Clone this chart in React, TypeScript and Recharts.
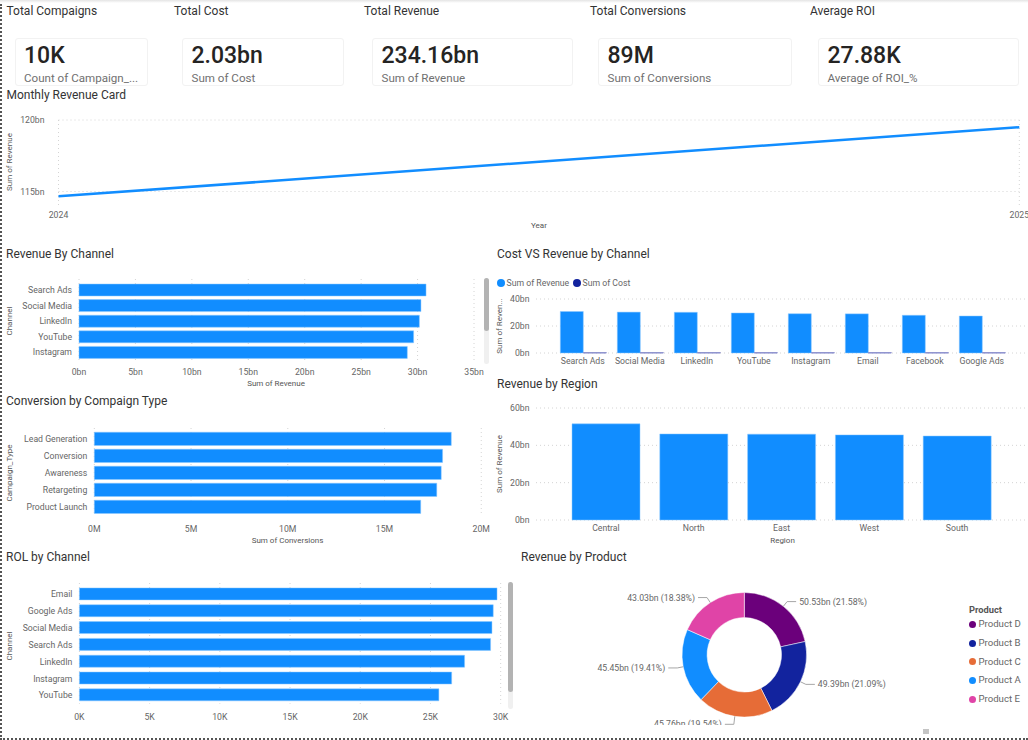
import { CSSProperties } from 'react'
import {
  BarChart, Bar, LineChart, Line, PieChart, Pie, Cell,
  XAxis, YAxis, CartesianGrid,
} from 'recharts'

const BLUE = '#118DFF'
const NAVY = '#12239E'
const GRID = '#d4d4d4'
const TICK = '#666666'
const EDGE = '#8cc8ff'
const FONT = 'Roboto, sans-serif'
const TICK_SIZE = 8.7

const years = [2024, 2025]
const yearlyRevenue = [114.66, 119.5]

const revenueChannels = ['Search Ads', 'Social Media', 'LinkedIn', 'YouTube', 'Instagram']
const revenueByChannel = [30.75, 30.3, 30.16, 29.65, 29.09]

const campaignTypes = ['Lead Generation', 'Conversion', 'Awareness', 'Retargeting', 'Product Launch']
const conversions = [18.45, 18.0, 17.93, 17.7, 16.87]

const roiChannels = ['Email', 'Google Ads', 'Social Media', 'Search Ads', 'LinkedIn', 'Instagram', 'YouTube']
const roiValues = [29.74, 29.47, 29.38, 29.28, 27.43, 26.51, 25.6]

const costChannels = ['Search Ads', 'Social Media', 'LinkedIn', 'YouTube', 'Instagram', 'Email', 'Facebook', 'Google Ads']
const costChannelRevenue = [30.75, 30.3, 30.16, 29.65, 29.09, 29.0, 27.95, 27.4]
const costChannelCost = [0.26, 0.26, 0.26, 0.25, 0.25, 0.25, 0.25, 0.25]

const regions = ['Central', 'North', 'East', 'West', 'South']
const regionRevenue = [51.5, 46.1, 46.0, 45.6, 45.0]

const products = ['Product D', 'Product B', 'Product C', 'Product A', 'Product E']
const productRevenue = [50.53, 49.39, 45.76, 45.45, 43.03]
const productColors = ['#6B007B', NAVY, '#E66C37', BLUE, '#E044A7']

const cards = [
  { title: 'Total Compaigns', titleX: 6.5, value: '10K', caption: 'Count of Campaign_...', x: 14.5, w: 133 },
  { title: 'Total Cost', titleX: 174, value: '2.03bn', caption: 'Sum of Cost', x: 182, w: 162 },
  { title: 'Total Revenue', titleX: 364, value: '234.16bn', caption: 'Sum of Revenue', x: 372, w: 201 },
  { title: 'Total Conversions', titleX: 590, value: '89M', caption: 'Sum of Conversions', x: 598, w: 194 },
  { title: 'Average ROI', titleX: 810, value: '27.88K', caption: 'Average of ROI_%', x: 818, w: 201 },
]

function Label({ x, y, size, color, weight, children }: any) {
  const style: CSSProperties = {
    position: 'absolute', left: x, top: y, transform: 'translateY(-50%)',
    fontSize: size, color, fontFamily: FONT, fontWeight: weight ?? 400,
    lineHeight: 1, whiteSpace: 'nowrap',
  }
  return <div style={style}>{children}</div>
}

const Heading = ({ x, y, children }: any) => (
  <Label x={x} y={y} size={12} color="#333">{children}</Label>
)

const AxisTitle = ({ x, y, rotate, children }: any) => (
  <div style={{
    position: 'absolute', left: x, top: y,
    transform: `translate(-50%, -50%)${rotate ? ' rotate(-90deg)' : ''}`,
    fontSize: 8, color: '#555', fontFamily: FONT, lineHeight: 1, whiteSpace: 'nowrap',
  }}>{children}</div>
)

const Scrollbar = ({ x, top, bottom, thumbEnd }: any) => (
  <div style={{ position: 'absolute', left: x, top, width: 5, height: bottom - top, background: '#f0f0f0', borderRadius: 3 }}>
    <div style={{ width: 5, height: thumbEnd - top, background: '#b3b3b3', borderRadius: 3 }} />
  </div>
)

// plain svg text so recharts doesn't wrap the long category names
const axisTick = (format: (v: any) => string = String) => (p: any) => (
  <text
    x={p.x}
    y={p.y}
    dy={p.verticalAnchor === 'start' ? 6.4 : 3.1}
    textAnchor={p.textAnchor}
    fontSize={TICK_SIZE}
    fill={TICK}
    fontFamily={FONT}
  >
    {format(p.payload.value)}
  </text>
)

// horizontal bars, plot box given in page pixels
function HBars({ names, values, unit, max, ticks, plotLeft, plotRight, top, bottom, padTop, barSize, xMargin }: any) {
  const data = names.map((name: string, i: number) => ({ name, value: values[i] }))
  return (
    <div style={{ position: 'absolute', left: 0, top }}>
      <BarChart
        width={plotRight + 26}
        height={bottom - top + 24}
        layout="vertical"
        data={data}
        margin={{ top: 0, right: 26, bottom: 0, left: 0 }}
        barCategoryGap={0}
      >
        <CartesianGrid horizontal={false} verticalValues={ticks} stroke={GRID} strokeDasharray="1 3" />
        <XAxis
          type="number"
          domain={[0, max]}
          ticks={ticks}
          interval={0}
          height={24}
          tickSize={0}
          tickMargin={xMargin}
          tickLine={false}
          axisLine={false}
          tick={axisTick((v) => `${v}${unit}`)}
        />
        <YAxis
          type="category"
          dataKey="name"
          width={plotLeft}
          interval={0}
          tickSize={0}
          tickMargin={7}
          tickLine={false}
          axisLine={false}
          tick={axisTick()}
          padding={{ top: padTop, bottom: 0 }}
        />
        <Bar dataKey="value" fill={BLUE} stroke={EDGE} strokeWidth={0.5} barSize={barSize} isAnimationActive={false} />
      </BarChart>
    </div>
  )
}

function DonutLabel(props: any) {
  const { cx, cy, midAngle, outerRadius, value, percent } = props
  const rad = (-midAngle * Math.PI) / 180
  const cos = Math.cos(rad)
  const sin = Math.sin(rad)
  const side = cos >= 0 ? 1 : -1
  const x0 = cx + outerRadius * cos
  const y0 = cy + outerRadius * sin
  const x1 = cx + (outerRadius + 6) * cos
  const y1 = cy + (outerRadius + 6) * sin
  const x2 = x1 + side * 9
  // the bottom label sits lower in the original and gets cut by the visual edge
  const nudge = sin > 0.95 ? 2 : 0
  return (
    <g>
      <polyline points={`${x0},${y0} ${x1},${y1 + nudge} ${x2},${y1 + nudge}`} fill="none" stroke="#a6a6a6" strokeWidth={1} />
      <text
        x={x2 + side * 3}
        y={y1 + nudge + 3}
        textAnchor={side > 0 ? 'start' : 'end'}
        fontSize={TICK_SIZE}
        fill={TICK}
        fontFamily={FONT}
      >
        {`${value.toFixed(2)}bn (${(percent * 100).toFixed(2)}%)`}
      </text>
    </g>
  )
}

export default function App() {
  const lineData = years.map((year, i) => ({ year, revenue: yearlyRevenue[i] }))
  const costData = costChannels.map((name, i) => ({ name, revenue: costChannelRevenue[i], cost: costChannelCost[i] }))
  const regionData = regions.map((name, i) => ({ name, revenue: regionRevenue[i] }))
  const productData = products.map((name, i) => ({ name, value: productRevenue[i] }))

  return (
    <div style={{ position: 'absolute', left: 0, top: 0, width: 1028, height: 740, overflow: 'hidden', background: '#fff' }}>
      {/* frame */}
      <div style={{ position: 'absolute', left: 0, top: 0, width: 1028, height: 3, background: 'linear-gradient(#e4e4e4, #ffffff)' }} />
      <div style={{ position: 'absolute', left: 0, top: 4, bottom: 0, width: 0, borderLeft: '2px dotted #555' }} />
      <div style={{ position: 'absolute', left: 0, bottom: 0, width: 1028, height: 0, borderBottom: '2px dotted #555' }} />
      <div style={{ position: 'absolute', left: 923, top: 729, width: 6, height: 5, background: '#c4c4c4' }} />

      {/* KPI cards */}
      {cards.map((c) => (
        <div key={c.title}>
          <Heading x={c.titleX} y={10.5}>{c.title}</Heading>
          <div style={{ position: 'absolute', left: c.x, top: 37.5, width: c.w, height: 48, boxSizing: 'border-box', border: '1px solid #f2f2f2', borderRadius: 3 }} />
          <Label x={c.x + 9.5} y={54.5} size={23} color="#252423" weight={500}>{c.value}</Label>
          <Label x={c.x + 9.5} y={79} size={11.6} color="#707070">{c.caption}</Label>
        </div>
      ))}

      {/* Monthly revenue */}
      <Heading x={6.5} y={95}>Monthly Revenue Card</Heading>
      <AxisTitle x={9.5} y={162} rotate>Sum of Revenue</AxisTitle>
      <AxisTitle x={539} y={226}>Year</AxisTitle>
      <div style={{ position: 'absolute', left: 0, top: 109.5 }}>
        <LineChart width={1028} height={120} data={lineData} margin={{ top: 10, right: 8.7, bottom: 0, left: 0 }}>
          <CartesianGrid horizontalValues={[115, 120]} verticalValues={years} stroke={GRID} strokeDasharray="1 3" />
          <XAxis
            type="number"
            dataKey="year"
            domain={[2024, 2025]}
            ticks={years}
            interval={0}
            height={22.5}
            tickSize={0}
            tickMargin={3.7}
            tickLine={false}
            axisLine={false}
            tick={axisTick()}
          />
          <YAxis
            domain={[113.88, 120]}
            ticks={[115, 120]}
            width={58.5}
            tickSize={0}
            tickMargin={14}
            tickLine={false}
            axisLine={false}
            tick={axisTick((v) => `${v}bn`)}
          />
          <Line type="linear" dataKey="revenue" stroke={BLUE} strokeWidth={2.5} dot={false} isAnimationActive={false} />
        </LineChart>
      </div>

      {/* Revenue by channel */}
      <Heading x={6} y={254}>Revenue By Channel</Heading>
      <AxisTitle x={9.5} y={321} rotate>Channel</AxisTitle>
      <AxisTitle x={276} y={384}>Sum of Revenue</AxisTitle>
      <HBars
        names={revenueChannels}
        values={revenueByChannel}
        unit="bn"
        max={35}
        ticks={[0, 5, 10, 15, 20, 25, 30, 35]}
        plotLeft={79}
        plotRight={474}
        top={279}
        bottom={360}
        padTop={3}
        barSize={12}
        xMargin={8.4}
      />
      <Scrollbar x={484} top={278} bottom={364} thumbEnd={331} />

      {/* Conversions by campaign */}
      <Heading x={6} y={401}>Conversion by Compaign Type</Heading>
      <AxisTitle x={9.5} y={473} rotate>Campaign_Type</AxisTitle>
      <AxisTitle x={287.5} y={541}>Sum of Conversions</AxisTitle>
      <HBars
        names={campaignTypes}
        values={conversions}
        unit="M"
        max={20}
        ticks={[0, 5, 10, 15, 20]}
        plotLeft={94.3}
        plotRight={481.3}
        top={428}
        bottom={515.2}
        padTop={2.2}
        barSize={13.3}
        xMargin={10.2}
      />

      {/* ROI by channel */}
      <Heading x={6} y={557}>ROL by Channel</Heading>
      <AxisTitle x={9.5} y={645.5} rotate>Channel</AxisTitle>
      <HBars
        names={roiChannels}
        values={roiValues}
        unit="K"
        max={30}
        ticks={[0, 5, 10, 15, 20, 25, 30]}
        plotLeft={79.4}
        plotRight={500.7}
        top={583}
        bottom={703.7}
        padTop={2.9}
        barSize={12}
        xMargin={9.7}
      />
      <Scrollbar x={508} top={582} bottom={709} thumbEnd={692} />

      {/* Cost vs revenue */}
      <Heading x={497} y={254}>Cost VS Revenue by Channel</Heading>
      <div style={{ position: 'absolute', left: 497, top: 278.5, width: 8, height: 8, borderRadius: 4, background: BLUE }} />
      <Label x={506.5} y={283} size={TICK_SIZE} color={TICK}>Sum of Revenue</Label>
      <div style={{ position: 'absolute', left: 573, top: 278.5, width: 8, height: 8, borderRadius: 4, background: NAVY }} />
      <Label x={582.5} y={283} size={TICK_SIZE} color={TICK}>Sum of Cost</Label>
      <AxisTitle x={500} y={326} rotate>Sum of Reven...</AxisTitle>
      <div style={{ position: 'absolute', left: 0, top: 289.3 }}>
        <BarChart
          width={1028}
          height={86}
          data={costData}
          margin={{ top: 10, right: 1, bottom: 0, left: 0 }}
          barCategoryGap={6}
          barGap={0}
        >
          <CartesianGrid vertical={false} horizontalValues={[0, 20, 40]} stroke={GRID} strokeDasharray="1 3" />
          <XAxis
            dataKey="name"
            interval={0}
            height={22}
            tickSize={0}
            tickMargin={5}
            tickLine={false}
            axisLine={false}
            tick={axisTick()}
            padding={{ left: 18.3, right: 16.7 }}
          />
          <YAxis
            domain={[0, 40]}
            ticks={[0, 20, 40]}
            width={536}
            tickSize={0}
            tickMargin={6.5}
            tickLine={false}
            axisLine={false}
            tick={axisTick((v) => `${v}bn`)}
          />
          <Bar dataKey="revenue" fill={BLUE} stroke={EDGE} strokeWidth={0.5} isAnimationActive={false} />
          <Bar dataKey="cost" fill={NAVY} stroke="#8f93cf" strokeWidth={1} isAnimationActive={false} />
        </BarChart>
      </div>

      {/* Revenue by region */}
      <Heading x={497} y={384}>Revenue by Region</Heading>
      <AxisTitle x={500} y={464} rotate>Sum of Revenue</AxisTitle>
      <AxisTitle x={782.5} y={541}>Region</AxisTitle>
      <div style={{ position: 'absolute', left: 0, top: 398.3 }}>
        <BarChart
          width={1028}
          height={144}
          data={regionData}
          margin={{ top: 10, right: 1, bottom: 0, left: 0 }}
          barCategoryGap={10}
        >
          <CartesianGrid vertical={false} horizontalValues={[0, 20, 40, 60]} stroke={GRID} strokeDasharray="1 3" />
          <XAxis
            dataKey="name"
            interval={0}
            height={22}
            tickSize={0}
            tickMargin={5}
            tickLine={false}
            axisLine={false}
            tick={axisTick()}
            padding={{ left: 26, right: 26 }}
          />
          <YAxis
            domain={[0, 60]}
            ticks={[0, 20, 40, 60]}
            width={536}
            tickSize={0}
            tickMargin={6.5}
            tickLine={false}
            axisLine={false}
            tick={axisTick((v) => `${v}bn`)}
          />
          <Bar dataKey="revenue" fill={BLUE} stroke={EDGE} strokeWidth={0.5} isAnimationActive={false} />
        </BarChart>
      </div>

      {/* Revenue by product */}
      <Heading x={521} y={557}>Revenue by Product</Heading>
      <div style={{ position: 'absolute', left: 520, top: 570, width: 440, height: 155.5, overflow: 'hidden' }}>
        <PieChart width={440} height={155} margin={{ top: 0, right: 0, bottom: 0, left: 0 }} style={{ overflow: 'visible' }}>
          <Pie
            data={productData}
            dataKey="value"
            nameKey="name"
            cx={224.3}
            cy={84.8}
            innerRadius={37.2}
            outerRadius={62.3}
            startAngle={90}
            endAngle={-270}
            stroke="#fff"
            strokeWidth={0.5}
            label={DonutLabel}
            labelLine={false}
            isAnimationActive={false}
          >
            {productData.map((p, i) => <Cell key={p.name} fill={productColors[i]} />)}
          </Pie>
        </PieChart>
      </div>
      <Label x={969} y={609.5} size={9.3} color="#555" weight={700}>Product</Label>
      {products.map((name, i) => (
        <div key={name}>
          <div style={{ position: 'absolute', left: 969, top: 620.8 + i * 18.7, width: 7, height: 7, borderRadius: 4, background: productColors[i] }} />
          <Label x={978.5} y={624.3 + i * 18.7} size={9.6} color={TICK}>{name}</Label>
        </div>
      ))}
    </div>
  )
}
